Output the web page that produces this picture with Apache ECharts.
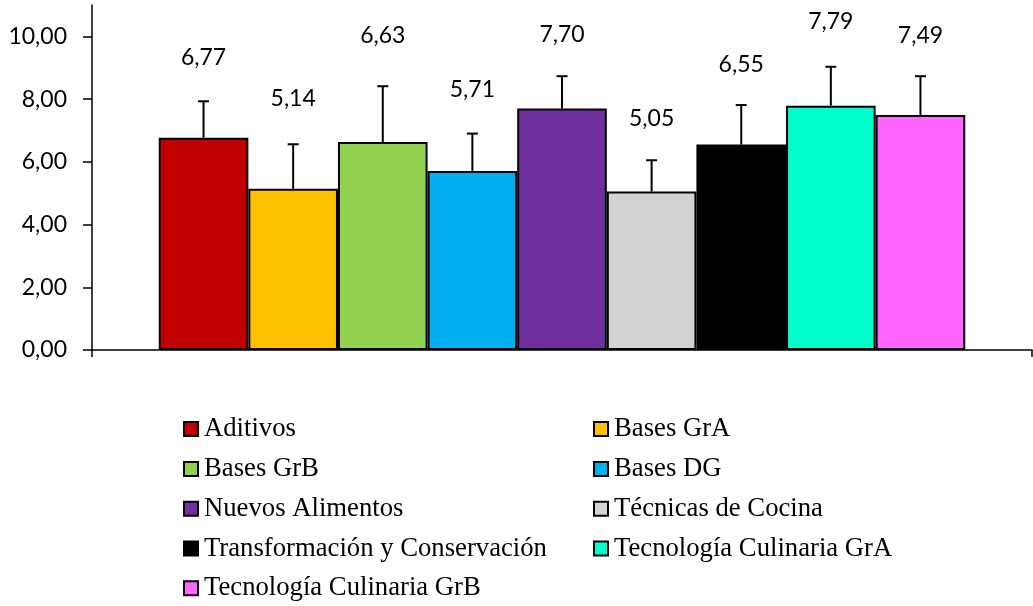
<!DOCTYPE html>
<html>
<head>
<meta charset="utf-8">
<script src="https://cdn.jsdelivr.net/npm/echarts@6/dist/echarts.min.js"></script>
<style>html,body{margin:0;padding:0;background:#fff;}#c{width:1033px;height:606px;}</style>
</head>
<body>
<div id="c"></div>
<script>
// ---- data ----
const seriesNames = ['Aditivos', 'Bases GrA', 'Bases GrB', 'Bases DG', 'Nuevos Alimentos', 'Técnicas de Cocina', 'Transformación y Conservación', 'Tecnología Culinaria GrA', 'Tecnología Culinaria GrB'];
const meanValues = [6.77, 5.14, 6.63, 5.71, 7.70, 5.05, 6.55, 7.79, 7.49];
const errorValues = [1.16, 1.42, 1.78, 1.19, 1.03, 1.00, 1.26, 1.24, 1.24];
const yTicks = [0, 2, 4, 6, 8, 10];
const legendLeftColumn = ['Aditivos', 'Bases GrB', 'Nuevos Alimentos', 'Transformación y Conservación', 'Tecnología Culinaria GrB'];
const legendRightColumn = ['Bases GrA', 'Bases DG', 'Técnicas de Cocina', 'Tecnología Culinaria GrA'];

// ---- styles ----
const colors = ['#C00000', '#FFC000', '#92D050', '#00B0F0', '#7030A0', '#D3D3D3', '#000000', '#00FFCC', '#FF66FF'];
const labelDistances = [69, 79, 95, 70, 62, 62, 68.5, 73, 68];
const CAT_GAP = 0.142;
const numFmt = v => v.toFixed(2).replace('.', ',');
const numFont = 'Lato, "Open Sans", sans-serif';

const chart = echarts.init(document.getElementById('c'), null, {renderer: 'canvas'});

const barSeries = seriesNames.map((name, i) => ({
  name: name,
  type: 'bar',
  data: [meanValues[i]],
  barGap: '0%',
  barCategoryGap: (CAT_GAP * 100) + '%',
  itemStyle: {color: colors[i], borderColor: '#000', borderWidth: 2},
  label: {
    show: true, position: 'top', distance: labelDistances[i],
    formatter: p => numFmt(p.value),
    fontFamily: numFont, fontSize: 23, lineHeight: 23, color: '#000'
  },
  emphasis: {disabled: true},
  z: 2
}));

const errSeries = {
  type: 'custom',
  z: 3,
  silent: true,
  encode: {x: 0, y: 2},
  data: meanValues.map((m, i) => [0, i, m, errorValues[i]]),
  renderItem: function (params, api) {
    const idx = api.value(1);
    const mean = api.value(2);
    const err = api.value(3);
    const n = seriesNames.length;
    const band = api.size([1, 0])[0];
    const groupW = band * (1 - CAT_GAP);
    const barW = groupW / n;
    const c = api.coord([0, mean]);
    const t = api.coord([0, mean + err]);
    const x = c[0] - groupW / 2 + (idx + 0.5) * barW;
    const capHalf = 5.5;
    const st = {stroke: '#000', lineWidth: 2};
    return {
      type: 'group',
      children: [
        {type: 'line', shape: {x1: x, y1: c[1], x2: x, y2: t[1]}, style: st},
        {type: 'line', shape: {x1: x - capHalf, y1: t[1], x2: x + capHalf, y2: t[1]}, style: st}
      ]
    };
  }
};

const legendCommon = {
  orient: 'vertical',
  top: 415.6,
  padding: 0,
  itemWidth: 14,
  itemHeight: 14,
  itemGap: 12.8,
  icon: 'rect',
  selectedMode: false,
  textStyle: {fontFamily: '"Liberation Serif", "Times New Roman", serif', fontSize: 26.7, lineHeight: 26.7, color: '#000', padding: [0, 0, 0, 1]}
};

chart.setOption({
  animation: false,
  backgroundColor: '#fff',
  grid: {left: 92, right: 1, top: 5, bottom: 256, containLabel: false},
  xAxis: {
    type: 'category',
    data: [''],
    boundaryGap: true,
    axisLine: {lineStyle: {color: '#000', width: 1.5}},
    axisTick: {show: true, length: 7, lineStyle: {color: '#000', width: 1.5}},
    axisLabel: {show: false},
    splitLine: {show: false}
  },
  yAxis: {
    type: 'value',
    min: 0,
    max: 11,
    interval: 2,
    axisLine: {show: true, lineStyle: {color: '#000', width: 1.5}},
    axisTick: {show: true, length: 9, customValues: yTicks, lineStyle: {color: '#000', width: 1.5}},
    axisLabel: {
      customValues: yTicks,
      formatter: v => numFmt(v),
      margin: 25,
      fontFamily: numFont, fontSize: 23, color: '#000'
    },
    splitLine: {show: false}
  },
  legend: [
    Object.assign({}, legendCommon, {left: 183, data: legendLeftColumn}),
    Object.assign({}, legendCommon, {left: 593, data: legendRightColumn})
  ],
  series: barSeries.concat([errSeries])
});
</script>
</body>
</html>
